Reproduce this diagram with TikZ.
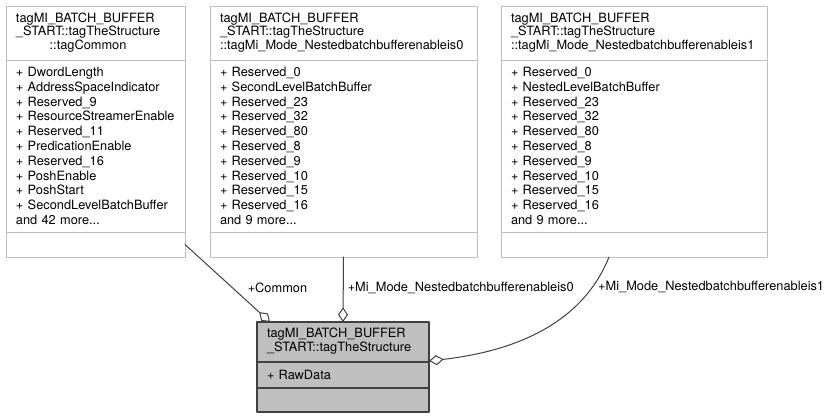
\documentclass[tikz,border=0pt]{standalone}
\usepackage{fontspec}
\setmainfont{TeX Gyre Heros}
\usetikzlibrary{positioning,arrows.meta}
\definecolor{boxgray}{RGB}{191,191,191}
\definecolor{edgegray}{RGB}{64,64,64}
\newcommand{\classtitle}[2]{{\def\arraystretch{0.92}\begin{tabular}{@{}l@{}}#1\\\multicolumn{1}{@{}c@{}}{#2}\end{tabular}}}
\newcommand{\attr}[1]{+~#1\\}
\begin{document}
\begin{tikzpicture}[x=0.75pt, y=-0.75pt, font=\fontsize{9.6}{11.1}\selectfont, line join=round, line cap=round,
	part/.style={rectangle, draw=boxgray, line width=0.75pt, outer sep=0pt, inner xsep=7.5pt, inner ysep=0pt, align=left, anchor=north west},
	mainpart/.style={part, draw=edgegray, fill=boxgray, line width=0.9pt},
	edge/.style={draw=edgegray, line width=0.75pt, -{Diamond[open, length=11pt, width=7.5pt]}},
	lbl/.style={inner sep=2pt}]
		\useasboundingbox (0,0) rectangle (833,419);
		\node[part, text width=119.25pt, minimum height=40.5pt] (common) at (6,6)
		{\classtitle{tagMI\_BATCH\_BUFFER\\\_START::tagTheStructure}{::tagCommon}};
		\node[part, text width=119.25pt, minimum height=129pt, below=0pt of common] (commonattr)
		{\attr{DwordLength}\attr{AddressSpaceIndicator}\attr{Reserved\_9}\attr{ResourceStreamerEnable}\attr{Reserved\_11}\attr{PredicationEnable}\attr{Reserved\_16}\attr{PoshEnable}\attr{PoshStart}\attr{SecondLevelBatchBuffer}and 42 more...};
		\node[part, text width=119.25pt, minimum height=18.75pt, below=0pt of commonattr] (commonop) {};
		\node[part, text width=185.25pt, minimum height=40.5pt] (nest0) at (210,6)
		{\classtitle{tagMI\_BATCH\_BUFFER\\\_START::tagTheStructure}{::tagMi\_Mode\_Nestedbatchbufferenableis0}};
		\node[part, text width=185.25pt, minimum height=129pt, below=0pt of nest0] (nest0attr)
		{\attr{Reserved\_0}\attr{SecondLevelBatchBuffer}\attr{Reserved\_23}\attr{Reserved\_32}\attr{Reserved\_80}\attr{Reserved\_8}\attr{Reserved\_9}\attr{Reserved\_10}\attr{Reserved\_15}\attr{Reserved\_16}and 9 more...};
		\node[part, text width=185.25pt, minimum height=18.75pt, below=0pt of nest0attr] (nest0op) {};
		\node[part, text width=184.5pt, minimum height=40.5pt] (nest1) at (501,6)
		{\classtitle{tagMI\_BATCH\_BUFFER\\\_START::tagTheStructure}{::tagMi\_Mode\_Nestedbatchbufferenableis1}};
		\node[part, text width=184.5pt, minimum height=129pt, below=0pt of nest1] (nest1attr)
		{\attr{Reserved\_0}\attr{NestedLevelBatchBuffer}\attr{Reserved\_23}\attr{Reserved\_32}\attr{Reserved\_80}\attr{Reserved\_8}\attr{Reserved\_9}\attr{Reserved\_10}\attr{Reserved\_15}\attr{Reserved\_16}and 9 more...};
		\node[part, text width=184.5pt, minimum height=18.75pt, below=0pt of nest1attr] (nest1op) {};
		\node[mainpart, text width=114pt, minimum height=30pt] (structure) at (257,322)
		{\classtitle{tagMI\_BATCH\_BUFFER}{\_START::tagTheStructure}};
		\node[mainpart, text width=114pt, minimum height=19.5pt, below=0pt of structure] (structattr) {+~RawData};
		\node[mainpart, text width=114pt, minimum height=18pt, below=0pt of structattr] (structop) {};
		\draw[edge] (commonop.east) -- ([xshift=9.75pt]structure.north west)
		node[lbl, pos=0.56, right=9pt] (lcommon) {+Common};
		\draw[edge] (nest0op.south) -- (structure.north)
		node[lbl, pos=0.48, right=1pt] (lnest0) {+Mi\_Mode\_Nestedbatchbufferenableis0};
		\draw[edge] ([xshift=-18.75pt]nest1op.south) .. controls +(-30,75) and +(70,-8) .. ([yshift=0.75pt]structure.south east)
		node[lbl, pos=0.15, right=2pt] (lnest1) {+Mi\_Mode\_Nestedbatchbufferenableis1};
\end{tikzpicture}
\end{document}
